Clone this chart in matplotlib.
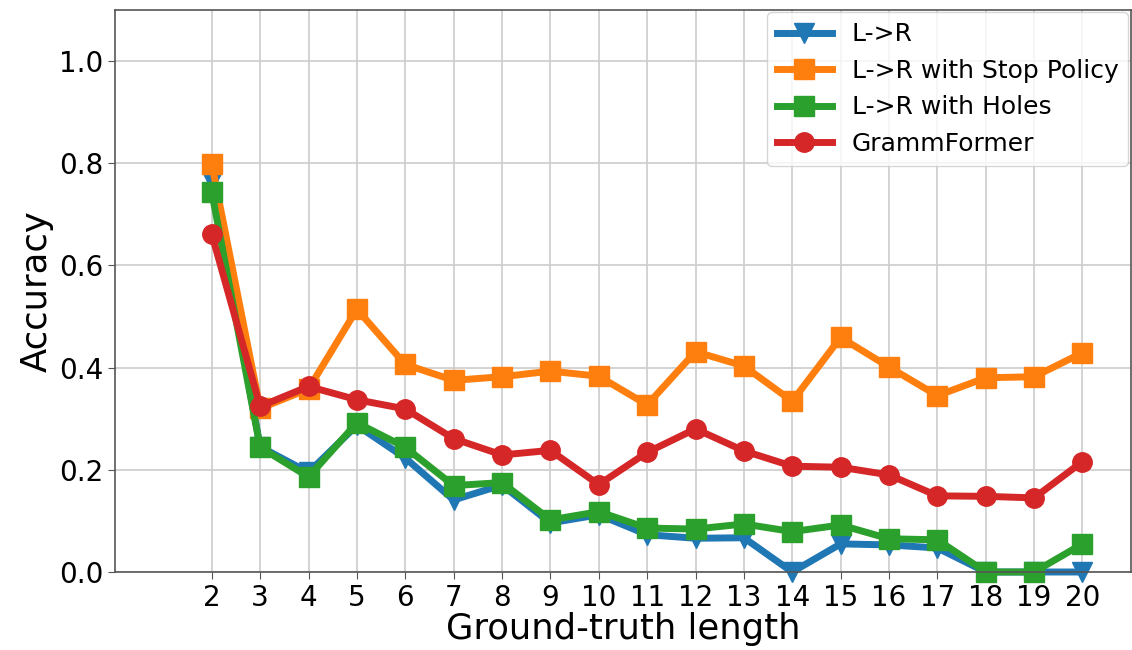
import matplotlib
matplotlib.use("Agg")
import matplotlib.pyplot as plt

lengths = list(range(2, 21))

acc_lr = [0.765, 0.245, 0.195, 0.287, 0.223, 0.141, 0.170, 0.096, 0.112, 0.073,
          0.066, 0.067, 0.0, 0.055, 0.053, 0.047, 0.0, 0.0, 0.0]
acc_lr_stop = [0.798, 0.320, 0.358, 0.514, 0.406, 0.375, 0.382, 0.393, 0.383, 0.327,
               0.431, 0.403, 0.334, 0.459, 0.401, 0.345, 0.380, 0.382, 0.429]
acc_lr_holes = [0.743, 0.244, 0.186, 0.292, 0.244, 0.169, 0.175, 0.102, 0.118, 0.086,
                0.084, 0.094, 0.079, 0.092, 0.065, 0.063, 0.0, 0.0, 0.055]
acc_grammformer = [0.661, 0.324, 0.363, 0.337, 0.319, 0.261, 0.229, 0.238, 0.171, 0.234,
                   0.280, 0.237, 0.207, 0.205, 0.190, 0.149, 0.148, 0.145, 0.216]

series = [
    ("L->R", acc_lr, "v", "#1f77b4"),
    ("L->R with Stop Policy", acc_lr_stop, "s", "#ff7f0e"),
    ("L->R with Holes", acc_lr_holes, "s", "#2ca02c"),
    ("GrammFormer", acc_grammformer, "o", "#d62728"),
]

fig = plt.figure(figsize=(11.32, 6.5), dpi=100)
ax = fig.add_axes([0.1016, 0.12, 0.8974, 0.865])

for label, vals, marker, color in series:
    ax.plot(lengths, vals, marker=marker, color=color, linewidth=5,
            markersize=14, label=label, clip_on=False)

ax.set_xlim(0, 21)
ax.set_ylim(0, 1.1)
ax.set_xticks(lengths)
ax.set_yticks([0.0, 0.2, 0.4, 0.6, 0.8, 1.0])
ax.tick_params(labelsize=20, color="#555555", length=5)
ax.grid(True, color="#cccccc", linewidth=1.2)
ax.set_axisbelow(True)
for sp in ax.spines.values():
    sp.set_color("#555555")
    sp.set_linewidth(1.2)

ax.set_xlabel("Ground-truth length", fontsize=25.5, labelpad=0)
ax.set_ylabel("Accuracy", fontsize=25.5, labelpad=4)

ax.legend(loc="upper right", fontsize=18, handlelength=2.2,
          borderaxespad=0.1, framealpha=0.8)

fig.savefig("out.png", dpi=100)
